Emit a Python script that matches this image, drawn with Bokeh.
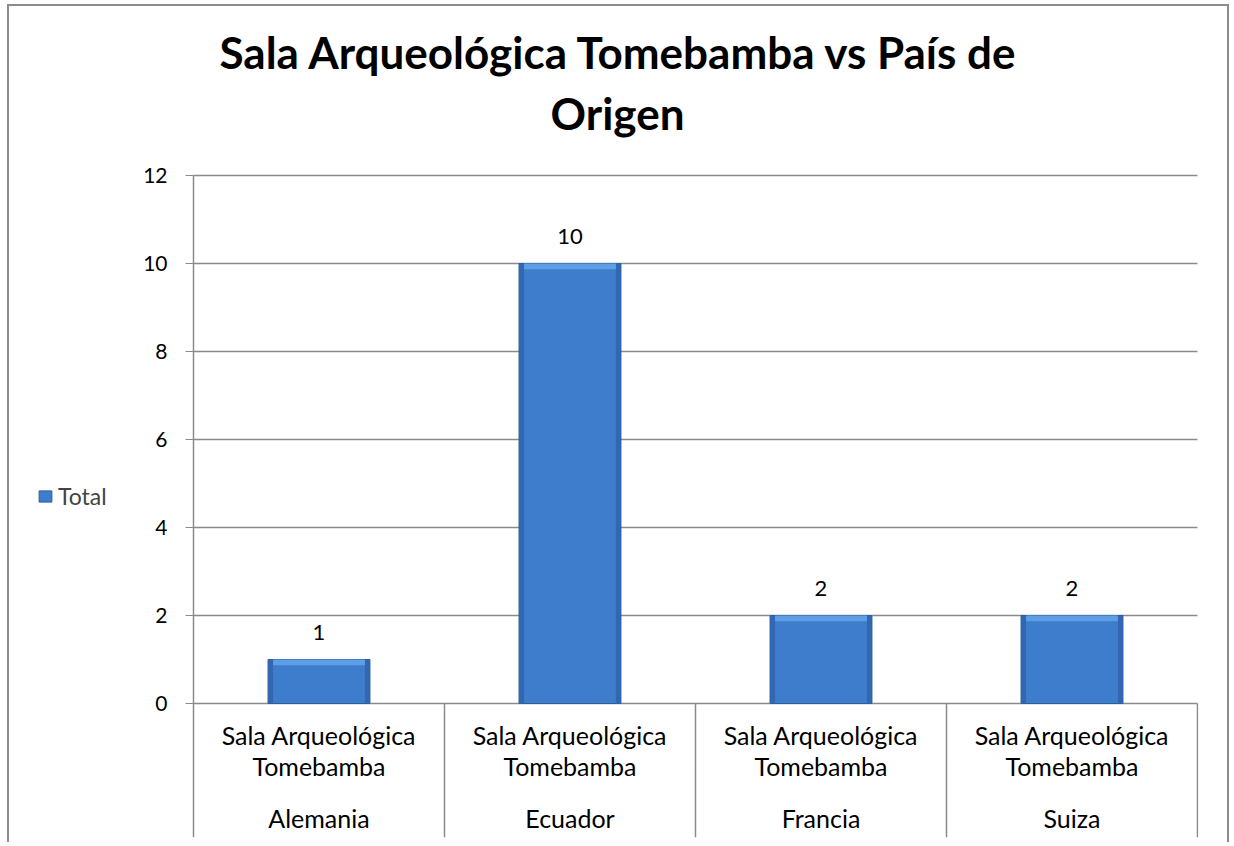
from bokeh.plotting import figure
from bokeh.models import Range1d, FixedTicker, Title, ColumnDataSource, Legend, LegendItem
from bokeh.core.properties import value
from bokeh.embed import file_html
from bokeh.resources import INLINE

# ---- data ----
countries = ["Alemania", "Ecuador", "Francia", "Suiza"]
sala_line1 = ["Sala Arqueológica", "Sala Arqueológica", "Sala Arqueológica", "Sala Arqueológica"]
sala_line2 = ["Tomebamba", "Tomebamba", "Tomebamba", "Tomebamba"]
totals = [1, 10, 2, 2]
y_ticks = [0, 2, 4, 6, 8, 10, 12]
series_name = "Total"
title_line1 = "Sala Arqueológica Tomebamba   vs País de"
title_line2 = "Origen"

FONT = "Lato"
GRID = "#8a8a8a"
BAR_W = 0.406
N = len(countries)

xs = [i + 0.5 for i in range(N)]
src = ColumnDataSource(dict(x=xs, top=totals, lab=[str(v) for v in totals],
                            c=countries, s1=sala_line1, s2=sala_line2))

W, H = 1222, 838
FRAME_L, AXIS_X, FRAME_R = 27, 184, 1189   # canvas px
FRAME_T, ZERO_Y, FRAME_B = 151, 697, 831
X_END = N + 0.004
unit = (FRAME_R - AXIS_X) / X_END
X_START = -(AXIS_X - FRAME_L) / unit
PX_PER_Y = 44.0
Y_MAX = (ZERO_Y - FRAME_T) / PX_PER_Y
Y_MIN = -(FRAME_B - ZERO_Y) / PX_PER_Y

p = figure(width=W, height=H, output_backend="svg", toolbar_location=None,
           x_range=Range1d(X_START, X_END), y_range=Range1d(Y_MIN, Y_MAX),
           x_axis_location=None,
           min_border_left=FRAME_L, min_border_right=W - FRAME_R,
           min_border_top=FRAME_T, min_border_bottom=H - FRAME_B)
p.styles = {"margin-left": "7px", "margin-top": "4px",
            "border-top": "2px solid #8c8c8c", "border-left": "2px solid #8c8c8c",
            "border-right": "2px solid #8c8c8c"}
p.outline_line_color = None
p.background_fill_color = "white"
p.border_fill_color = "white"
p.grid.visible = False

# y axis pinned at x = 0
ya = p.yaxis[0]
ya.fixed_location = 0
ya.ticker = FixedTicker(ticks=y_ticks)
ya.minor_tick_line_color = None
ya.major_tick_out = 8
ya.major_tick_in = 0
ya.major_tick_line_color = GRID
ya.axis_line_color = None
ya.major_label_standoff = 18
ya.major_label_text_font = FONT
ya.major_label_text_font_size = "21px"
ya.major_label_text_color = "black"

# axis line: from the top tick down through the category area
p.segment(x0=[0], x1=[0], y0=[Y_MIN], y1=[max(y_ticks)], line_color=GRID, line_width=1.5)

# horizontal gridlines from the axis to the right edge
p.segment(x0=[0] * len(y_ticks), x1=[N] * len(y_ticks), y0=y_ticks, y1=y_ticks,
          line_color=GRID, line_width=1.5)

# category separators (below zero)
sep_x = list(range(1, N + 1))
p.segment(x0=sep_x, x1=sep_x, y0=[0] * N, y1=[Y_MIN] * N,
          line_color=GRID, line_width=1.5)

# bars with simple bevel
bars = p.vbar(x="x", top="top", bottom=0, width=BAR_W, source=src,
              fill_color="#3e7dcb", line_color="#2d5e9c", line_width=1)
edge = 0.02
p.quad(left=[x - BAR_W / 2 for x in xs], right=[x - BAR_W / 2 + edge for x in xs],
       bottom=[0] * N, top=totals, fill_color="#2f63aa", line_color=None, fill_alpha=0.8)
p.quad(left=[x + BAR_W / 2 - edge for x in xs], right=[x + BAR_W / 2 for x in xs],
       bottom=[0] * N, top=totals, fill_color="#2f63aa", line_color=None, fill_alpha=0.8)
p.quad(left=[x - BAR_W / 2 + edge for x in xs], right=[x + BAR_W / 2 - edge for x in xs],
       bottom=[v - 0.13 for v in totals], top=totals, fill_color="#5d9fe6", line_color=None)

# value labels
p.text(x="x", y="top", text="lab", source=src, y_offset=-27,
       text_align="center", text_baseline="middle",
       text_font=value(FONT), text_font_size="22px", text_color="black")

# category labels
for col, off in (("s1", 31), ("s2", 62), ("c", 114)):
    p.text(x="x", y=0, text=col, source=src, y_offset=off,
           text_align="center", text_baseline="middle",
           text_font=value(FONT), text_font_size="25px", text_color="black")

# title: two stacked titles (nearest the plot is added first)
t2 = Title(text=title_line2, align="center", standoff=37, vertical_align="bottom",
           text_font=FONT, text_font_style="bold", text_font_size="44px", text_color="black")
t1 = Title(text=title_line1, align="left", offset=183, standoff=-22, vertical_align="bottom",
           text_font=FONT, text_font_style="bold", text_font_size="44px", text_color="black")
p.add_layout(t2, "above")
p.add_layout(t1, "above")

# legend (inside the wide frame, left of the axis)
legend = Legend(items=[LegendItem(label=series_name, renderers=[bars])],
                location=(1, 327), orientation="vertical",
                padding=0, margin=0, spacing=0,
                glyph_width=16, glyph_height=14, label_standoff=5,
                label_text_font=FONT, label_text_font_size="23px",
                border_line_color=None, background_fill_alpha=0)
p.add_layout(legend, "center")

open("out.html", "w").write(file_html(p, INLINE))
